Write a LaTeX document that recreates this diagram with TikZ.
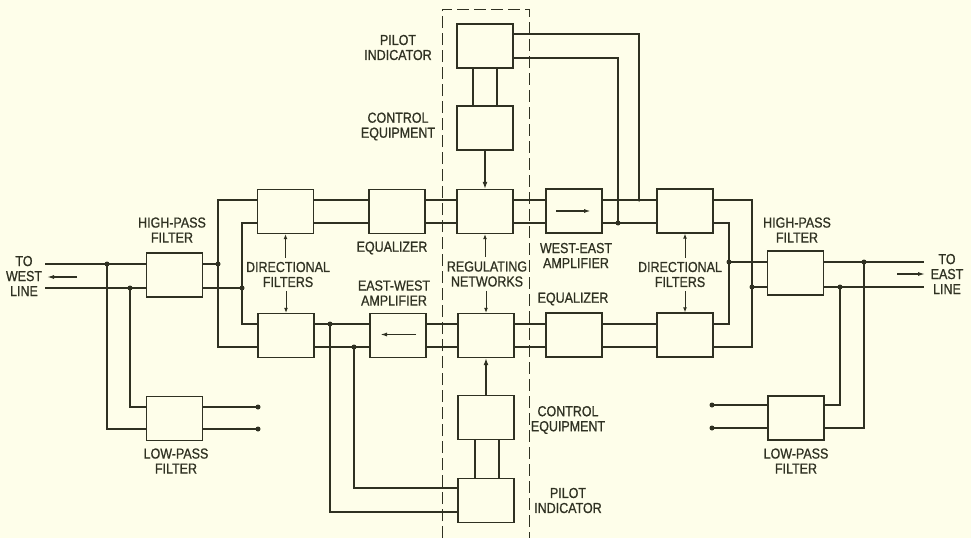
\documentclass[tikz,border=0pt]{standalone}
\usepackage{fontspec}
\setmainfont{Liberation Sans}[FakeStretch=0.86,FakeBold=0.8]
\usetikzlibrary{arrows.meta}
\definecolor{bg}{HTML}{FEFEEA}
\definecolor{ink}{HTML}{2F3122}
\begin{document}
\begin{tikzpicture}[x=1pt,y=-1pt,
  box/.style={draw=ink,line width=1.3pt,minimum width=56pt,minimum height=44pt,inner sep=0pt},
  wire/.style={draw=ink,line width=1.6pt},
  lab/.style={text=ink,font=\fontsize{14.5}{15}\selectfont,align=center,inner sep=0pt},
  jdot/.style={circle,fill=ink,inner sep=0pt,minimum size=5pt},
  ptr/.style={draw=ink,line width=1pt,-{Latex[length=5pt,width=4pt]}},
  amp/.style={draw=ink,line width=1.6pt,-{Latex[length=7pt,width=4pt]}}]
\fill[bg] (0,0) rectangle (971,538);
\useasboundingbox (0,0) rectangle (971,538);
% boxes
\node[box] (hpL) at (174.5,275) {};
\node[box] (lpL) at (174.5,418.5) {};
\node[box] (dfLT) at (285.5,211.5) {};
\node[box] (dfLB) at (286,335.5) {};
\node[box] (eqT) at (397,211.5) {};
\node[box] (ewA) at (398,335.5) {};
\node[box] (rnT) at (485,211.5) {};
\node[box] (rnB) at (486,335.5) {};
\node[box] (ceT) at (485,128) {};
\node[box] (piT) at (485,46) {};
\node[box] (ceB) at (486,417.5) {};
\node[box] (piB) at (486,500.5) {};
\node[box] (weA) at (574,211) {};
\node[box] (eqB) at (574,335) {};
\node[box] (dfRT) at (685,211) {};
\node[box] (dfRB) at (685,335) {};
\node[box] (hpR) at (795.5,273) {};
\node[box] (lpR) at (796,418) {};
% row levels
\coordinate (yA) at (0,200); \coordinate (yB) at (0,223);
\coordinate (yC) at (0,324); \coordinate (yD) at (0,347);
% west side
\coordinate (wT) at (45,264); \coordinate (wB) at (45,288);
\draw[wire] (wT) -- (hpL.west |- wT);
\draw[wire] (wB) -- (hpL.west |- wB);
\coordinate (jL1) at (107,264); \coordinate (jL2) at (130,288);
\coordinate (yL1) at (0,407); \coordinate (yL2) at (0,429);
\draw[wire] (jL1) |- (lpL.west |- yL2);
\draw[wire] (jL2) |- (lpL.west |- yL1);
\coordinate (tL1) at (258,407); \coordinate (tL2) at (258,429);
\draw[wire] (lpL.east |- tL1) -- (tL1);
\draw[wire] (lpL.east |- tL2) -- (tL2);
\coordinate (jA) at (218,264); \coordinate (jB) at (242,288);
\draw[wire] (hpL.east |- jA) -- (jA);
\draw[wire] (hpL.east |- jB) -- (jB);
\draw[wire] (dfLT.west |- yA) -| (jA) |- (dfLB.west |- yD);
\draw[wire] (dfLT.west |- yB) -| (jB) |- (dfLB.west |- yC);
% rows
\foreach \a/\b in {dfLT/eqT,eqT/rnT,rnT/weA,weA/dfRT}{
  \draw[wire] (\a.east |- yA) -- (\b.west |- yA);
  \draw[wire] (\a.east |- yB) -- (\b.west |- yB);}
\foreach \a/\b in {dfLB/ewA,ewA/rnB,rnB/eqB,eqB/dfRB}{
  \draw[wire] (\a.east |- yC) -- (\b.west |- yC);
  \draw[wire] (\a.east |- yD) -- (\b.west |- yD);}
% east side
\coordinate (jC) at (729,262); \coordinate (jD) at (752,287);
\draw[wire] (dfRT.east |- yA) -| (jD) |- (dfRB.east |- yD);
\draw[wire] (dfRT.east |- yB) -| (jC) |- (dfRB.east |- yC);
\draw[wire] (jC) -- (hpR.west |- jC);
\draw[wire] (jD) -- (hpR.west |- jD);
\coordinate (eT) at (924,262); \coordinate (eB) at (924,287);
\draw[wire] (hpR.east |- eT) -- (eT);
\draw[wire] (hpR.east |- eB) -- (eB);
\coordinate (jE) at (864,262); \coordinate (jF) at (840,287);
\coordinate (yR1) at (0,405); \coordinate (yR2) at (0,428);
\draw[wire] (jE) |- (lpR.east |- yR2);
\draw[wire] (jF) |- (lpR.east |- yR1);
\coordinate (tR1) at (712,405); \coordinate (tR2) at (712,428);
\draw[wire] (tR1) -- (lpR.west |- tR1);
\draw[wire] (tR2) -- (lpR.west |- tR2);
% pilot / control top
\coordinate (jG) at (639,200); \coordinate (jH) at (618,223);
\coordinate (yP1) at (0,34); \coordinate (yP2) at (0,58);
\draw[wire] (piT.east |- yP1) -| (jG);
\draw[wire] (piT.east |- yP2) -| (jH);
\coordinate (xP1) at (473,0); \coordinate (xP2) at (497,0);
\draw[wire] (piT.south -| xP1) -- (ceT.north -| xP1);
\draw[wire] (piT.south -| xP2) -- (ceT.north -| xP2);
\draw[wire,-{Latex[length=7pt,width=5pt]}] (ceT.south) -- (rnT.north);
% pilot / control bottom
\coordinate (xQ1) at (475,0); \coordinate (xQ2) at (499,0);
\draw[wire] (piB.north -| xQ1) -- (ceB.south -| xQ1);
\draw[wire] (piB.north -| xQ2) -- (ceB.south -| xQ2);
\draw[wire,-{Latex[length=7pt,width=5pt]}] (ceB.north) -- (rnB.south);
\coordinate (jI) at (330,324); \coordinate (jJ) at (354,347);
\coordinate (yQ1) at (0,488); \coordinate (yQ2) at (0,512);
\draw[wire] (jI) |- (piB.west |- yQ2);
\draw[wire] (jJ) |- (piB.west |- yQ1);
% dots
\foreach \p in {jL1,jL2,tL1,tL2,jA,jB,jC,jD,jE,jF,tR1,tR2,jH,jI,jJ}
  \node[jdot] at (\p) {};
\node[jdot,minimum size=3.5pt] at (jG) {};
% dashed enclosure
\draw[ink,line width=1pt,dash pattern=on 12pt off 5pt] (442,538) -- (442,9) -- (529,9) -- (529,538);
% amplifier arrows
\draw[amp] ([xshift=-18pt]weA.center) -- ([xshift=17pt]weA.center);
\draw[amp] ([xshift=18pt,yshift=1pt]ewA.center) -- ([xshift=-18pt,yshift=1pt]ewA.center);
% labels
\node[lab] (lHPL) at (172,230) {HIGH-PASS\\FILTER};
\node[lab] (lLPL) at (176,461) {LOW-PASS\\FILTER};
\node[lab] (lHPR) at (797,230) {HIGH-PASS\\FILTER};
\node[lab] (lLPR) at (796,461) {LOW-PASS\\FILTER};
\node[lab] (lW) at (24,276) {TO\\WEST\\LINE};
\node[lab] (lE) at (947,274) {TO\\EAST\\LINE};
\coordinate (aW1) at (77,277); \coordinate (aW2) at (47,277);
\draw[amp,line width=1.2pt] (aW1) -- (aW2);
\coordinate (aE1) at (897,274); \coordinate (aE2) at (925,274);
\draw[amp,line width=1.2pt] (aE1) -- (aE2);
\node[lab] (lDFL) at (288,274.5) {DIRECTIONAL\\FILTERS};
\draw[ptr] ([yshift=4pt]lDFL.north -| dfLT.south) -- (dfLT.south);
\draw[ptr] ([yshift=-4pt]lDFL.south -| dfLB.north) -- (dfLB.north);
\node[lab] (lDFR) at (680,274.5) {DIRECTIONAL\\FILTERS};
\draw[ptr] ([yshift=4pt]lDFR.north -| dfRT.south) -- (dfRT.south);
\draw[ptr] ([yshift=-4pt]lDFR.south -| dfRB.north) -- (dfRB.north);
\node[lab] (lRN) at (487,274) {REGULATING\\NETWORKS};
\draw[ptr] ([yshift=4pt]lRN.north -| rnT.south) -- (rnT.south);
\draw[ptr] ([yshift=-4pt]lRN.south -| rnB.north) -- (rnB.north);
\node[lab] (lEQT) at (392,248) {EQUALIZER};
\node[lab] (lEW) at (394,293) {EAST-WEST\\AMPLIFIER};
\node[lab] (lWE) at (576,255.5) {WEST-EAST\\AMPLIFIER};
\node[lab] (lEQB) at (573,299) {EQUALIZER};
\node[lab] (lPIT) at (398,47.5) {PILOT\\INDICATOR};
\node[lab] (lCET) at (398,126.5) {CONTROL\\EQUIPMENT};
\node[lab] (lCEB) at (568,420) {CONTROL\\EQUIPMENT};
\node[lab] (lPIB) at (568,500.5) {PILOT\\INDICATOR};
\end{tikzpicture}
\end{document}
